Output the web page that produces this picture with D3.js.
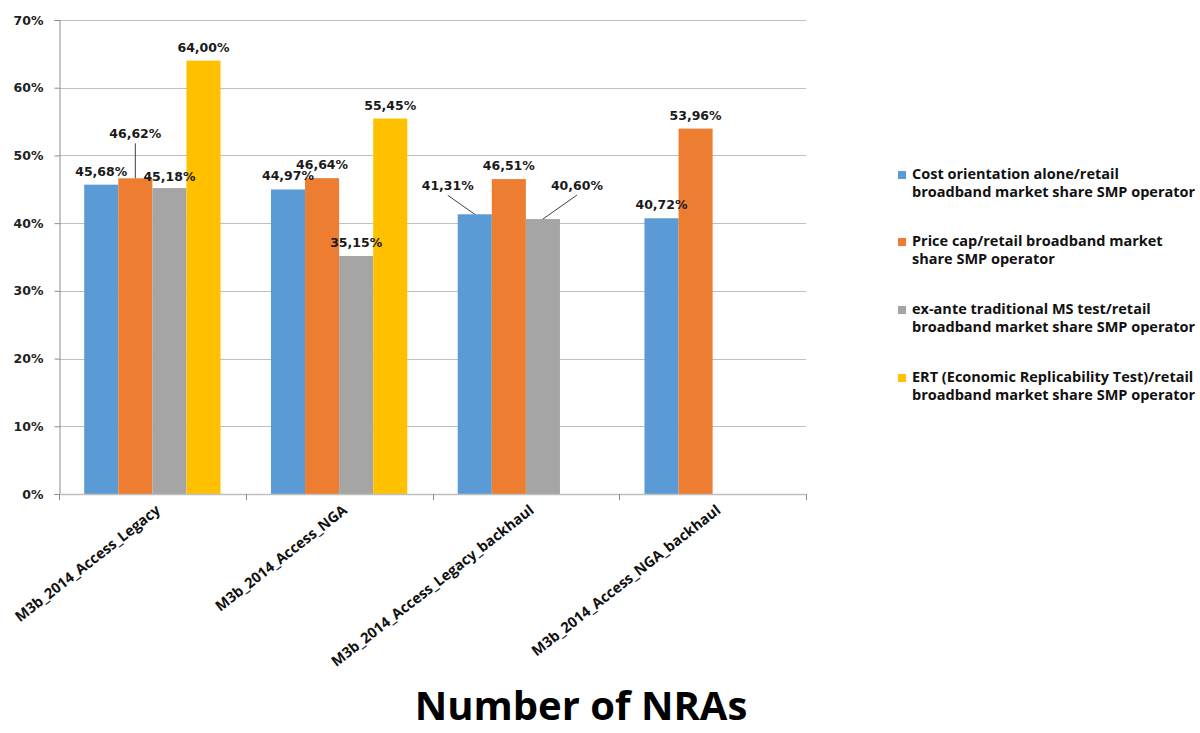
<!DOCTYPE html>
<html>
<head>
<meta charset="utf-8">
<script src="https://cdn.jsdelivr.net/npm/d3@7"></script>
<style>
  html, body { margin: 0; padding: 0; background: #fff; }
  svg { display: block; }
</style>
</head>
<body>
<svg id="chart" width="1200" height="733"></svg>
<script>
// Regulatory markets (x categories)
const categories = [
  "M3b_2014_Access_Legacy",
  "M3b_2014_Access_NGA",
  "M3b_2014_Access_Legacy_backhaul",
  "M3b_2014_Access_NGA_backhaul"
];

// Series names (legend order)
const seriesNames = [
  "Cost orientation alone/retail broadband market share SMP operator",
  "Price cap/retail broadband market share SMP operator",
  "ex-ante traditional MS test/retail broadband market share SMP operator",
  "ERT (Economic Replicability Test)/retail broadband market share SMP operator"
];

// Values in percent per series, one per category (null = no bar)
const costOrientation = [45.68, 44.97, 41.31, 40.72];
const priceCap        = [46.62, 46.64, 46.51, 53.96];
const msTest          = [45.18, 35.15, 40.60, null];
const ertTest         = [64.00, 55.45, null, null];

const yTicks = [0, 10, 20, 30, 40, 50, 60, 70];

const seriesValues = [costOrientation, priceCap, msTest, ertTest];
const colors = ["#5b9bd5", "#ed7d31", "#a5a5a5", "#ffc000"];

// Legend lines, as wrapped in the legend box
const legendLines = [
  ["Cost orientation alone/retail", "broadband market share SMP operator"],
  ["Price cap/retail broadband market", "share SMP operator"],
  ["ex-ante traditional MS test/retail", "broadband market share SMP operator"],
  ["ERT (Economic Replicability Test)/retail", "broadband market share SMP operator"]
];

// Labels moved away from their bars (with a leader line): key "category|series"
const labelNudge = {
  "0|1": { dx: 0, dy: -31, leader: true },
  "0|2": { dx: 0, dy: 2 },
  "2|0": { dx: -27, dy: -15, leader: true },
  "2|2": { dx: 34, dy: -20, leader: true }
};

const svg = d3.select("#chart");
const margin = { left: 59, top: 20, right: 806, bottom: 494 };

const x0 = d3.scaleBand()
  .domain(categories)
  .range([margin.left, margin.right])
  .paddingInner(0)
  .paddingOuter(0);

const groupPad = 0.135;
const x1 = d3.scaleBand()
  .domain(d3.range(seriesNames.length))
  .range([x0.bandwidth() * groupPad, x0.bandwidth() * (1 - groupPad)])
  .padding(0);

const y = d3.scaleLinear().domain([0, 70]).range([margin.bottom, margin.top]);

// Gridlines
svg.append("g")
  .selectAll("line")
  .data(yTicks.filter(d => d > 0))
  .join("line")
  .attr("x1", margin.left)
  .attr("x2", margin.right)
  .attr("y1", d => Math.round(y(d)) + 0.5)
  .attr("y2", d => Math.round(y(d)) + 0.5)
  .attr("stroke", "#bfbfbf")
  .attr("stroke-width", 1);

// Y axis
const yAxis = svg.append("g")
  .attr("transform", `translate(${margin.left + 0.5},0)`)
  .call(d3.axisLeft(y).tickValues(yTicks).tickFormat(d => d + "%").tickSize(5).tickPadding(11));
yAxis.select(".domain").attr("stroke", "#8c8c8c");
yAxis.selectAll(".tick line").attr("stroke", "#8c8c8c");
yAxis.selectAll(".tick text")
  .attr("fill", "#222")
  .style("font-family", "'DejaVu Sans', Verdana, sans-serif")
  .style("font-weight", "bold")
  .style("font-size", "12.5px");

// Bars
const groups = svg.append("g")
  .selectAll("g")
  .data(categories.map((c, i) => ({ c, i })))
  .join("g")
  .attr("transform", d => `translate(${x0(d.c)},0)`);

groups.selectAll("rect")
  .data(d => seriesValues.map((vals, s) => ({ ci: d.i, s, v: vals[d.i] })).filter(e => e.v !== null))
  .join("rect")
  .attr("x", d => x1(d.s))
  .attr("width", x1.bandwidth())
  .attr("y", d => y(d.v))
  .attr("height", d => y(0) - y(d.v))
  .attr("fill", d => colors[d.s]);

// X axis (category boundaries as ticks)
const xAxisG = svg.append("g");
xAxisG.append("line")
  .attr("x1", margin.left).attr("x2", margin.right)
  .attr("y1", margin.bottom + 0.5).attr("y2", margin.bottom + 0.5)
  .attr("stroke", "#bfbfbf").attr("stroke-width", 1.5);
const boundaries = categories.map(c => x0(c)).concat([x0.range()[1]]);
xAxisG.selectAll("line.tick")
  .data(boundaries)
  .join("line")
  .attr("class", "tick")
  .attr("x1", d => Math.round(d) + 0.5).attr("x2", d => Math.round(d) + 0.5)
  .attr("y1", margin.bottom).attr("y2", margin.bottom + 6)
  .attr("stroke", "#8c8c8c");

// Rotated category labels
xAxisG.selectAll("text")
  .data(categories)
  .join("text")
  .attr("transform", d => `translate(${x0(d) + x0.bandwidth() / 2 + 9},${margin.bottom + 18}) rotate(-38)`)
  .attr("text-anchor", "end")
  .attr("fill", "#111")
  .style("font-family", "'Open Sans', sans-serif")
  .style("font-weight", "bold")
  .style("font-size", "14.5px")
  .text(d => d);

// Data labels
const fmt = v => v.toFixed(2).replace(".", ",") + "%";
const labelData = [];
categories.forEach((c, ci) => {
  seriesValues.forEach((vals, s) => {
    const v = vals[ci];
    if (v === null) return;
    const bx = x0(c) + x1(s) + x1.bandwidth() / 2;
    const by = y(v);
    const n = labelNudge[ci + "|" + s] || { dx: 0, dy: 0 };
    labelData.push({ v, bx, by, lx: bx + n.dx, ly: by - 9 + n.dy, leader: !!n.leader });
  });
});

svg.append("g")
  .selectAll("line")
  .data(labelData.filter(d => d.leader))
  .join("line")
  .attr("x1", d => d.lx)
  .attr("y1", d => d.ly + 5)
  .attr("x2", d => d.bx)
  .attr("y2", d => d.by)
  .attr("stroke", "#404040")
  .attr("stroke-width", 1);

svg.append("g")
  .selectAll("text")
  .data(labelData)
  .join("text")
  .attr("x", d => d.lx)
  .attr("y", d => d.ly)
  .attr("text-anchor", "middle")
  .attr("fill", "#1a1a1a")
  .style("font-family", "'DejaVu Sans', Verdana, sans-serif")
  .style("font-weight", "bold")
  .style("font-size", "12.5px")
  .text(d => fmt(d.v));

// Legend
const legend = svg.append("g").attr("transform", "translate(898,0)");
const legendTop = [175, 242, 310, 378];
legendLines.forEach((lines, i) => {
  const g = legend.append("g").attr("transform", `translate(0,${legendTop[i]})`);
  g.append("rect").attr("x", 0).attr("y", -4).attr("width", 8).attr("height", 8).attr("fill", colors[i]);
  lines.forEach((t, j) => {
    g.append("text")
      .attr("x", 14)
      .attr("y", j * 18 + 4)
      .attr("fill", "#111")
      .style("font-family", "'Open Sans', sans-serif")
      .style("font-weight", "bold")
      .style("font-size", "14.5px")
      .text(t);
  });
});

// Title
svg.append("text")
  .attr("x", 581)
  .attr("y", 720)
  .attr("text-anchor", "middle")
  .attr("fill", "#000")
  .style("font-family", "'Open Sans', sans-serif")
  .style("font-weight", "bold")
  .style("font-size", "40px")
  .text("Number of NRAs");
</script>
</body>
</html>
